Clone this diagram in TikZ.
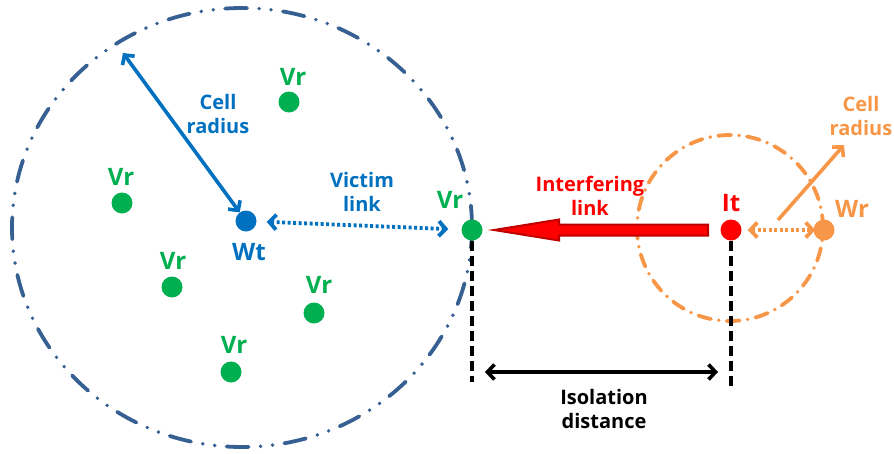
\documentclass[tikz,border=0pt]{standalone}
\usepackage{fontspec}
\setmainfont{Open Sans}
\usetikzlibrary{arrows.meta,calc}
\definecolor{vgreen}{HTML}{00B050}
\definecolor{wblue}{HTML}{0070C0}
\definecolor{cellblue}{HTML}{376092}
\definecolor{ired}{HTML}{FF0000}
\definecolor{idark}{HTML}{C00000}
\definecolor{worange}{HTML}{F79646}
\begin{document}
\begin{tikzpicture}[x=1pt,y=-1pt,
  dot/.style={circle, inner sep=0pt, minimum size=21pt},
  biglbl/.style={font=\bfseries\fontsize{24}{28}\selectfont, inner sep=0pt},
  smllbl/.style={font=\bfseries\fontsize{20}{24}\selectfont, align=center, inner sep=0pt},
  barbs/.style={{Straight Barb[length=7pt,width=15pt]}-{Straight Barb[length=7pt,width=15pt]}},
  dotline/.style={line width=3.8pt, dash pattern=on 3pt off 2.5pt},
  dashline/.style={black, line width=4pt, dash pattern=on 10pt off 5pt}
]
\useasboundingbox (0,0) rectangle (894,453);

% cells
\draw[cellblue, line width=3.8pt, line cap=round,
      dash pattern=on 22pt off 12pt on 0pt off 12pt on 0pt off 12pt]
  (242,227.5) ellipse [x radius=230pt, y radius=219.5pt];
\draw[worange, line width=3.8pt, line cap=round,
      dash pattern=on 13pt off 8pt on 0pt off 8pt]
  (730,228) circle [radius=93pt];

% nodes
\node[dot, fill=vgreen] (v1) at (289,102) {};
\node[biglbl, text=vgreen] (v1l) at (293,77) {Vr};
\node[dot, fill=vgreen] (v2) at (122,203) {};
\node[biglbl, text=vgreen] (v2l) at (121,177) {Vr};
\node[dot, fill=vgreen] (v3) at (172,287) {};
\node[biglbl, text=vgreen] (v3l) at (173,261) {Vr};
\node[dot, fill=vgreen] (v4) at (314,313) {};
\node[biglbl, text=vgreen] (v4l) at (319,285) {Vr};
\node[dot, fill=vgreen] (v5) at (231,372) {};
\node[biglbl, text=vgreen] (v5l) at (234,345) {Vr};
\node[dot, fill=vgreen] (v6) at (472,230) {};
\node[biglbl, text=vgreen] (v6l) at (450,200) {Vr};
\node[dot, fill=wblue] (wt) at (246,221) {};
\node[biglbl, text=wblue] (wtl) at (249,252) {Wt};
\node[dot, fill=ired] (it) at (731,230) {};
\node[biglbl, text=ired] (itl) at (731,203) {It};
\node[dot, fill=worange] (wr) at (824,230) {};
\node[biglbl, text=worange] (wrl) at (852,209) {Wr};

% text labels
\node[smllbl, text=wblue] (crl) at (218,114) {Cell\\radius};
\node[smllbl, text=wblue] (vll) at (362,192) {Victim\\link};
\node[smllbl, text=ired] (ill) at (590,196) {Interfering\\link};
\node[smllbl, text=worange] (ocl) at (861,116) {Cell\\radius};
\node[smllbl, text=black] (isl) at (604,409) {Isolation\\distance};

% cell radius (victim)
\coordinate (crt) at (123,53);
\draw[wblue, line width=3.6pt, barbs] (crt) -- (wt);
% victim link
\draw[wblue, dotline, barbs, shorten <=10pt, shorten >=13pt] (wt) -- (v6);
% interfering link
\draw[idark, fill=ired, line width=2pt, line join=miter]
  ($(it)+(-23,-5.5)$) -- ($(v6)+(87,-5.5)$) -- ($(v6)+(87,-10.5)$) --
  ($(v6)+(22,0)$) -- ($(v6)+(87,10.5)$) -- ($(v6)+(87,5.5)$) --
  ($(it)+(-23,5.5)$) -- cycle;
% interferer link
\draw[worange, dotline, barbs, shorten <=6pt, shorten >=-2pt] (it) -- (wr);
% cell radius (interferer)
\coordinate (oc1) at (778,220);
\coordinate (oc2) at (844,145);
\draw[worange, line width=3.6pt, -{Straight Barb[length=7pt,width=15pt]}] (oc1) -- (oc2);

% isolation distance
\coordinate (d1) at (472,382);
\coordinate (d2) at (731,387);
\draw[dashline] (v6.south) -- (d1);
\draw[dashline] (it.south) -- (d2);
\coordinate (ia1) at (485,372);
\coordinate (ia2) at (718,372);
\draw[black, line width=3.6pt, barbs] (ia1) -- (ia2);
\end{tikzpicture}
\end{document}
